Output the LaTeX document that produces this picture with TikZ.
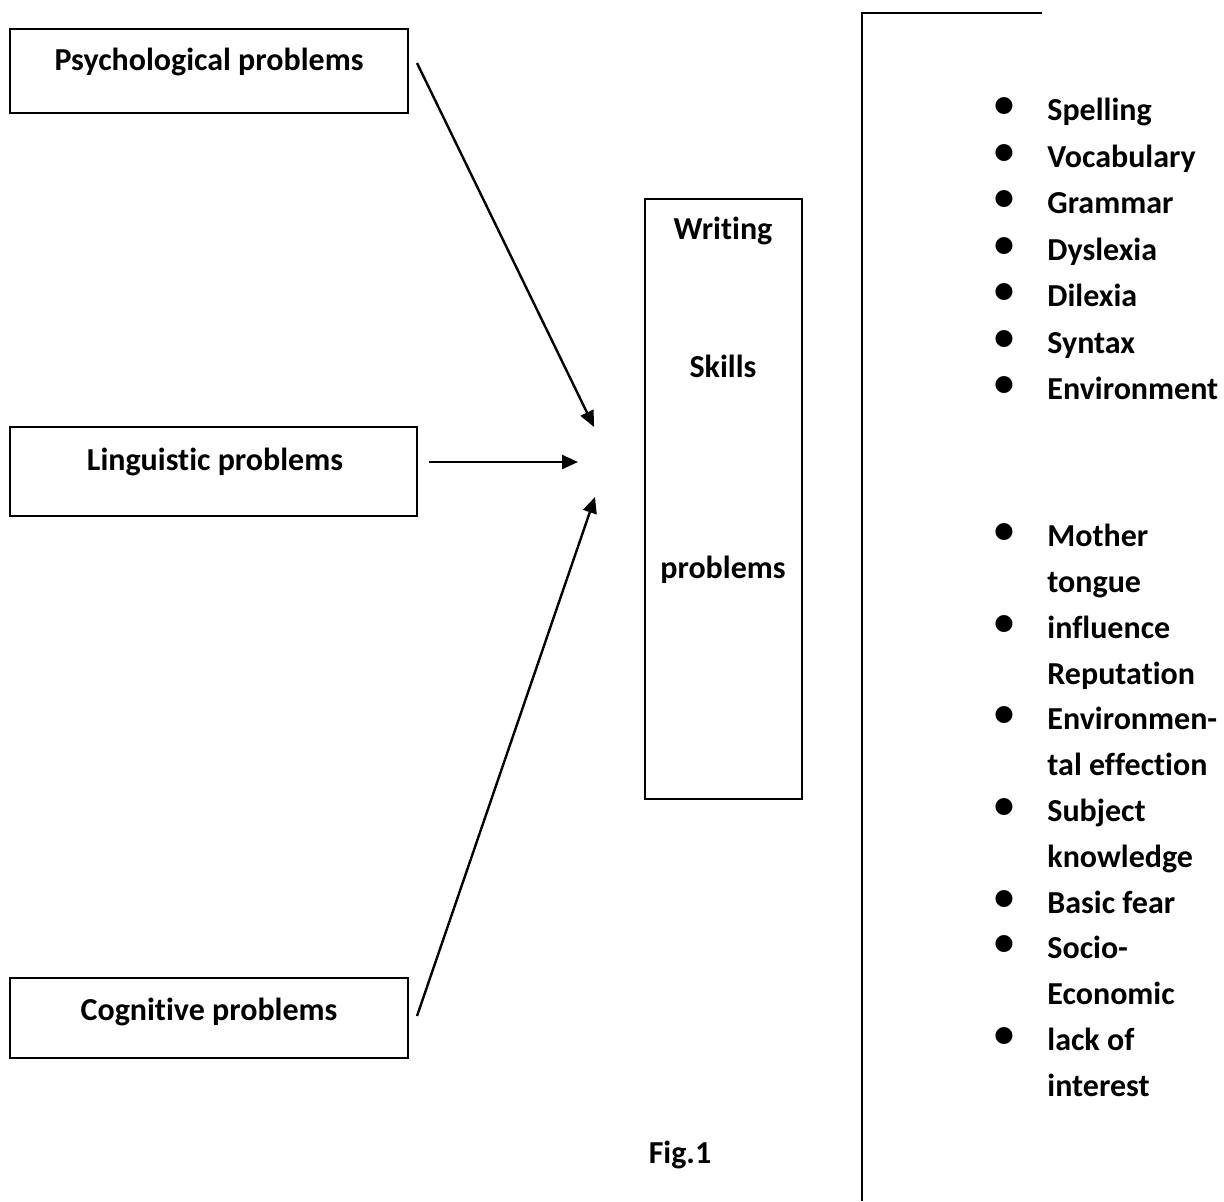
\documentclass[tikz,border=0pt]{standalone}
\usepackage{fontspec}
\setmainfont{Carlito}[Ligatures=NoCommon]
\usetikzlibrary{arrows.meta}

\tikzset{
  txt/.style={font=\bfseries\fontsize{16}{19}\selectfont, inner sep=0pt},
  item/.style={txt, anchor=mid west},
  dot/.style={font=\fontsize{24}{24}\selectfont, inner sep=0pt, anchor=mid},
  box/.style={draw, line width=1pt, inner sep=0pt},
  arr/.style={-{Triangle[length=8pt,width=7pt]}, line width=1.2pt}
}

\begin{document}
\begin{tikzpicture}[x=0.5pt,y=-0.5pt]
\useasboundingbox (0,0) rectangle (1224,1201);

% the three kinds of problems
\node[box, minimum width=199pt, minimum height=42pt] (psych) at (209,71) {};
\node[txt] (psychtxt) at (209,62) {Psychological problems};
\node[box, minimum width=203.5pt, minimum height=44.5pt] (ling) at (213.5,471.5) {};
\node[txt] (lingtxt) at (215,462) {Linguistic problems};
\node[box, minimum width=199pt, minimum height=40pt] (cog) at (209,1018) {};
\node[txt] (cogtxt) at (209,1012) {Cognitive problems};

% centre box
\node[box, minimum width=78.5pt, minimum height=300pt] (skills) at (723.5,499) {};
\node[txt] (w1) at (723,231) {Writing};
\node[txt] (w2) at (723,366) {Skills};
\node[txt] (w3) at (723,570) {problems};

\coordinate (psychout) at (417,63);
\coordinate (lingout) at (429,462);
\coordinate (cogout) at (417,1016);
\coordinate (ptip) at (594,427);
\coordinate (ltip) at (578,462);
\coordinate (ctip) at (595,497);
\draw[arr] (psychout) -- (ptip);
\draw[arr] (lingout) -- (ltip);
\draw[arr] (cogout) -- (ctip);

\node[txt] (fig) at (680,1155) {Fig.1};

% right column
\coordinate (rtop) at (862,13);
\coordinate (rbot) at (862,1201);
\coordinate (rend) at (1042,13);
\draw[line width=1pt] (rend) -- (rtop) -- (rbot);

\foreach \t [count=\i] in {Spelling,Vocabulary,Grammar,Dyslexia,Dilexia,Syntax,Environment}
{
  \node[item] (up\i) at (1047,{69.5+46.5*\i}) {\t};
  \node[dot] (upb\i) at (1004,{68.5+46.5*\i}) {•};
}

\foreach \t [count=\i] in {Mother,tongue,influence,Reputation,Environmen-,tal effection,Subject,knowledge,Basic fear,Socio-,Economic,lack of,interest}
  \node[item] (low\i) at (1047,{496.2+45.8*\i}) {\t};
\foreach \i in {1,3,5,7,9,10,12}
  \node[dot] (lowb\i) at (1004,{495.2+45.8*\i}) {•};
\end{tikzpicture}
\end{document}
